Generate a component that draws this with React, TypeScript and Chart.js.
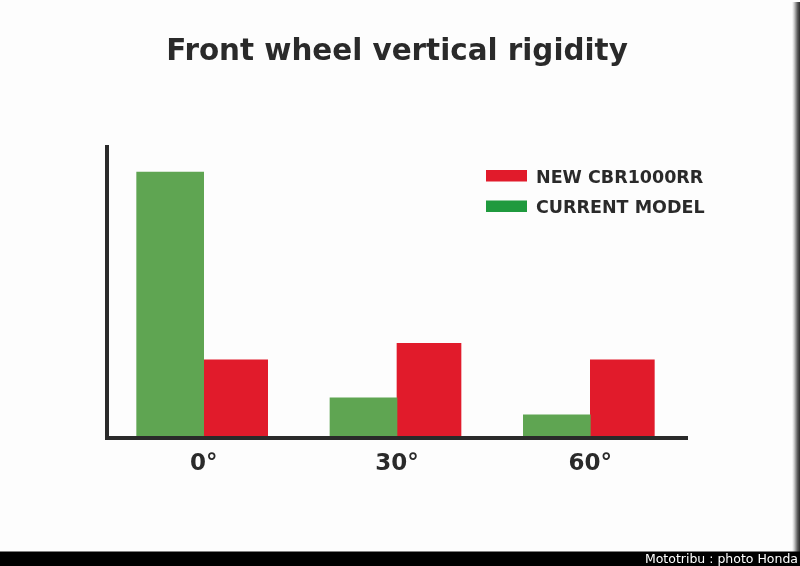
import React, { useEffect, useRef } from "react";
import { Chart, registerables } from "chart.js";

Chart.register(...registerables);

const TITLE = "Front wheel vertical rigidity";
const CATEGORIES = ["0°", "30°", "60°"];
const SERIES_NAMES = ["CURRENT MODEL", "NEW CBR1000RR"];
const CURRENT_MODEL = [91.5, 13.8, 8.0];
const NEW_CBR1000RR = [26.9, 32.6, 26.9];
const CREDIT = "Mototribu : photo Honda";

const BAR_COLORS = ["#5fa552", "#e11b2b"];
const LEGEND_COLORS = ["#1f9a3e", "#e11b2b"];
const INK = "#2a2a2a";

const decorPlugin = {
  id: "decor",
  beforeDraw(chart: any) {
    const { ctx, width, height } = chart;
    ctx.save();
    ctx.fillStyle = "#fdfdfd";
    ctx.fillRect(0, 0, width, height);
    const g = ctx.createLinearGradient(792, 0, 800, 0);
    g.addColorStop(0, "rgba(210,210,210,0)");
    g.addColorStop(0.3, "#c4c4c4");
    g.addColorStop(0.7, "#5a5a5a");
    g.addColorStop(1, "#2a2a2a");
    ctx.fillStyle = g;
    ctx.fillRect(792, 2, 8, 550);
    ctx.fillStyle = "#000";
    ctx.fillRect(0, 551.5, width, height - 551.5);
    ctx.fillStyle = "#ffffff";
    ctx.font = "12.5px 'DejaVu Sans'";
    ctx.textAlign = "right";
    ctx.textBaseline = "alphabetic";
    ctx.fillText(CREDIT, 798, 563);
    ctx.restore();
  },
  afterDraw(chart: any) {
    const { ctx } = chart;
    const ds = chart.data.datasets;
    ctx.save();
    ctx.font = "bold 17.5px 'DejaVu Sans'";
    ctx.textAlign = "left";
    ctx.textBaseline = "alphabetic";
    const order = ds.map((_: any, i: number) => i).reverse();
    order.forEach((di: number, row: number) => {
      const y = 170 + row * 30.5;
      ctx.fillStyle = LEGEND_COLORS[di];
      ctx.fillRect(486, y, 41, 11.5);
      ctx.fillStyle = INK;
      ctx.fillText(ds[di].label, 536, y + 12.7);
    });
    ctx.restore();
  },
};

export default function App() {
  const ref = useRef<HTMLCanvasElement | null>(null);
  useEffect(() => {
    if (!ref.current) return;
    const chart = new Chart(ref.current, {
      type: "bar",
      data: {
        labels: CATEGORIES,
        datasets: [
          {
            label: SERIES_NAMES[0],
            data: CURRENT_MODEL,
            backgroundColor: BAR_COLORS[0],
            borderWidth: 0,
            barThickness: 67,
          },
          {
            label: SERIES_NAMES[1],
            data: NEW_CBR1000RR,
            backgroundColor: BAR_COLORS[1],
            borderWidth: 0,
            barThickness: 64,
          },
        ],
      },
      options: {
        responsive: false,
        animation: false,
        layout: { padding: { left: 107, right: 113, top: 0, bottom: 76.4 } },
        plugins: {
          legend: { display: false },
          tooltip: { enabled: false },
          title: {
            display: true,
            text: TITLE,
            color: INK,
            font: { family: "'DejaVu Sans'", size: 29.4, weight: "bold" },
            padding: { top: 35, bottom: 77 },
          },
        },
        scales: {
          x: {
            offset: true,
            grid: { display: false, drawTicks: false },
            border: { display: true, color: INK, width: 4, z: 1 },
            ticks: {
              color: INK,
              padding: 12,
              font: { family: "'DejaVu Sans'", size: 23, weight: "bold" },
            },
          },
          y: {
            min: 0,
            max: 100,
            grid: { display: false, drawTicks: false },
            border: { display: true, color: INK, width: 4, z: 1 },
            ticks: { display: false },
          },
        },
      },
      plugins: [decorPlugin],
    });
    return () => chart.destroy();
  }, []);
  return (
    <div style={{ position: "absolute", left: 0, top: 0, width: 800, height: 566 }}>
      <canvas ref={ref} width={800} height={566} style={{ display: "block" }} />
    </div>
  );
}
